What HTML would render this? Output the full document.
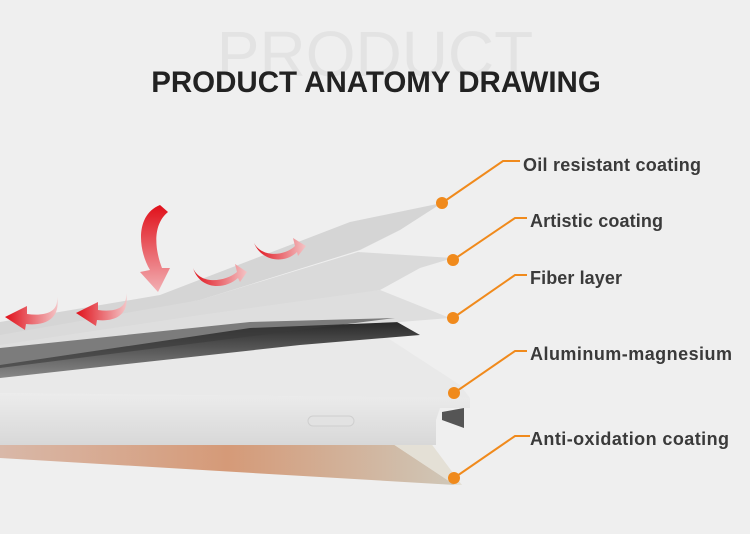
<!DOCTYPE html>
<html><head><style>
html,body{margin:0;padding:0;background:#efefef;}
svg{display:block;}
</style></head><body>
<svg width="750" height="534" viewBox="0 0 750 534" xmlns="http://www.w3.org/2000/svg">
<defs>
<linearGradient id="ar" x1="0" y1="0" x2="1" y2="0"><stop offset="0" stop-color="#e0101a"/><stop offset="1" stop-color="#f4c4c6"/></linearGradient>
<linearGradient id="arl" x1="0" y1="0" x2="1" y2="0"><stop offset="0" stop-color="#e0101a"/><stop offset="1" stop-color="#f4c4c6"/></linearGradient>
<linearGradient id="ard" x1="0" y1="0" x2="0" y2="1"><stop offset="0" stop-color="#e0101a"/><stop offset="1" stop-color="#f2b0b4"/></linearGradient>
<linearGradient id="dk" x1="0" y1="0" x2="0" y2="1"><stop offset="0" stop-color="#222"/><stop offset="1" stop-color="#888"/></linearGradient>
<linearGradient id="br" x1="0" y1="0" x2="1" y2="0"><stop offset="0" stop-color="#d9b8a8"/><stop offset="0.5" stop-color="#d59a78"/><stop offset="1" stop-color="#cfc7b8"/></linearGradient>
<linearGradient id="fr" x1="0" y1="0" x2="0" y2="1"><stop offset="0" stop-color="#ececec"/><stop offset="1" stop-color="#d8d8d8"/></linearGradient>
</defs>
<rect width="750" height="534" fill="#efefef"/>
<text x="375" y="76" text-anchor="middle" font-family="Liberation Sans, sans-serif" font-size="64" fill="#e3e3e3">PRODUCT</text>
<text x="376" y="92" text-anchor="middle" font-family="Liberation Sans, sans-serif" font-weight="bold" font-size="29.5" fill="#222">PRODUCT ANATOMY DRAWING</text>

<polygon points="0,440 390,442 455,485 0,458" fill="url(#br)"/>
<polygon points="390,442 430,442 462,485 455,485" fill="#e4e0d6"/>
<polygon points="0,393 470,398 470,408 440,408 436,420 436,445 0,445" fill="url(#fr)"/>
<polygon points="442,412 464,408 464,428 442,420" fill="#555"/>
<rect x="308" y="416" width="46" height="10" rx="5" fill="#e2e2e2" stroke="#cfcfcf"/>
<polygon points="0,375 300,345 380,333 460,385 470,398 0,393" fill="#e9e9e9"/>
<polygon points="0,352 250,325 390,318 420,335 300,345 0,378" fill="url(#dk)"/>
<polygon points="0,340 200,312 380,290 450,318 400,322 250,328 0,365" fill="#dedede"/>
<polygon points="0,348 250,322 395,318 0,368" fill="#3a3a3a" opacity="0.6"/>
<polygon points="0,330 200,300 358,252 453,258 420,268 380,290 200,315 0,345" fill="#dadada"/>
<polygon points="0,322 160,295 350,222 442,203 400,230 360,250 200,300 0,335" fill="#d5d5d5"/>

<!-- arrows -->
<path d="M160,205 C135,215 138,250 150,270 L140,272 L158,292 L170,268 L162,268 C155,250 152,225 168,212 Z" fill="url(#ard)"/>
<path d="M193,268 C200,285 225,282 237,272 L235,264 L247,272 L240,282 L238,278 C225,290 200,290 193,268 Z" fill="url(#ar)"/>
<path d="M254,243 C262,258 285,256 295,246 L293,238 L306,246 L298,256 L297,252 C285,264 262,262 254,243 Z" fill="url(#ar)"/>
<path d="M126,293 C128,310 112,312 98,310 L98,302 L76,313 L96,326 L97,320 C115,322 130,315 126,293 Z" fill="url(#arl)"/>
<path d="M57,297 C59,314 42,316 27,314 L27,306 L5,317 L25,330 L26,324 C45,326 61,319 57,297 Z" fill="url(#arl)"/>

<g stroke="#f08a1c" stroke-width="2" fill="none">
<polyline points="442,203 503,161 520,161"/>
<polyline points="453,260 515,218 527,218"/>
<polyline points="453,318 515,275 527,275"/>
<polyline points="454,393 515,351 527,351"/>
<polyline points="454,478 515,436 530,436"/>
</g>
<g fill="#f08a1c">
<circle cx="442" cy="203" r="6"/><circle cx="453" cy="260" r="6"/><circle cx="453" cy="318" r="6"/><circle cx="454" cy="393" r="6"/><circle cx="454" cy="478" r="6"/>
</g>
<g font-family="Liberation Sans, sans-serif" font-weight="bold" font-size="18" fill="#3a3a3a">
<text x="523" y="171" textLength="178">Oil resistant coating</text>
<text x="530" y="227" textLength="133">Artistic coating</text>
<text x="530" y="284" textLength="92">Fiber layer</text>
<text x="530" y="360" textLength="202">Aluminum-magnesium</text>
<text x="530" y="445" textLength="199">Anti-oxidation coating</text>
</g>
</svg>
</body></html>
